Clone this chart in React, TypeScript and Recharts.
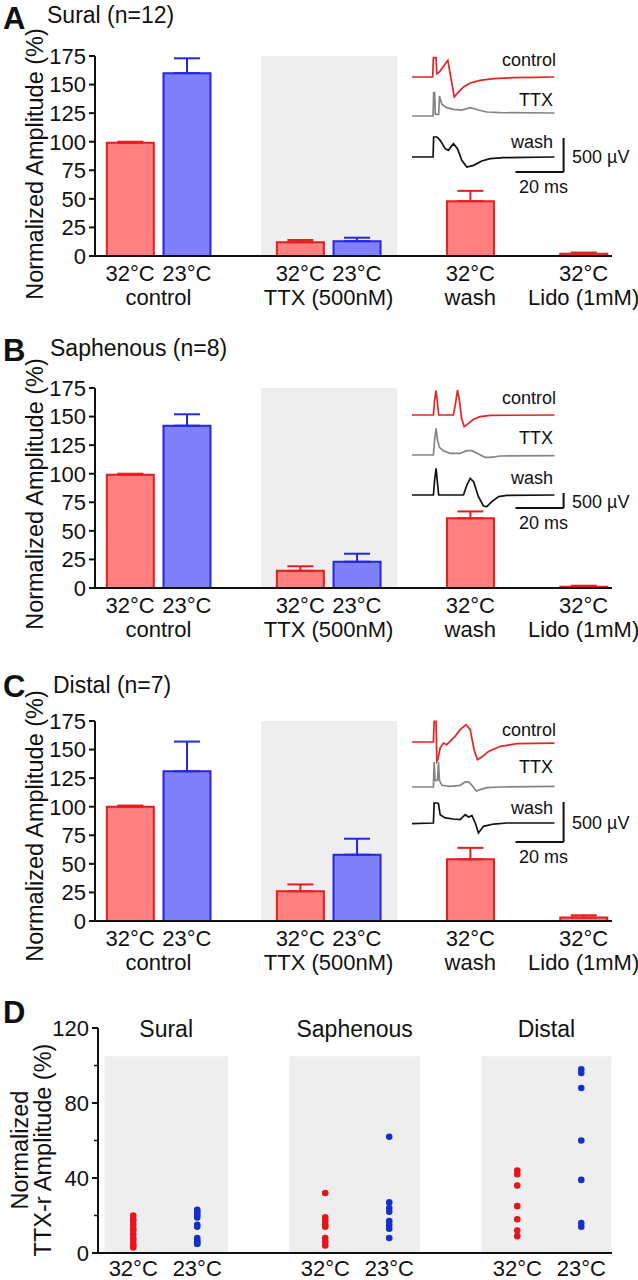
import React from 'react';
import {
  BarChart, Bar, XAxis, YAxis, ErrorBar, ReferenceArea, ReferenceLine,
  LineChart, Line, ScatterChart, Scatter,
} from 'recharts';

const FONT = '"Liberation Sans", Arial, Helvetica, sans-serif';
const INK = '#111';

// bar panels: treatment order along x
const barSlots = [0, 1, 3, 4, 6, 8];
const barTemps = ['32°C', '23°C', '32°C', '23°C', '32°C', '32°C'];
const groupSlots = [0.5, 3.5, 6, 8];
const groupNames = ['control', 'TTX (500nM)', 'wash', 'Lido (1mM)'];

// mean / SEM (% of control at 32°C)
const suralMean = [99, 160, 12, 13, 48, 2];
const suralSem = [1, 13, 2, 3, 9, 1];
const saphMean = [99, 142, 15, 23, 61, 1];
const saphSem = [1, 10, 4, 7, 6, 1];
const distalMean = [100, 131, 26, 58, 54, 3];
const distalSem = [1, 26, 6, 14, 10, 2];

// example traces (ms, µV)
const suralCtrlMs = [0, 8.6, 8.9, 10.0, 10.3, 11.4, 13.1, 14.9, 16.1, 17.6, 19.3, 21.4, 24.2, 28.3, 33.9, 42.2, 50.6, 59.2];
const suralCtrlUv = [0, 0, 284, 284, 49, 74, 157, 245, 0, -294, -221, -147, -88, -49, -25, -10, -5, 0];
const suralTtxMs = [0, 8.75, 9.0, 9.4, 9.7, 11.1, 11.4, 12.4, 14.4, 17.2, 20.7, 24.2, 27.6, 31.1, 36.7, 59.2];
const suralTtxUv = [0, 0, 343, 343, 25, 25, 294, 172, 123, 98, 88, 123, 88, 59, 49, 44];
const suralWashMs = [0, 8.75, 9.0, 10.3, 10.7, 11.7, 13.8, 15.1, 17.2, 18.9, 20.7, 22.8, 25.6, 29.0, 32.5, 38.1, 59.2];
const suralWashUv = [0, 0, 294, 294, 284, 245, 123, 98, 196, 123, -49, -147, -123, -59, -25, -10, 0];

const saphCtrlMs = [0, 8.9, 9.4, 10.0, 10.6, 11.1, 17.2, 18.1, 18.9, 19.7, 20.6, 21.7, 23.5, 25.6, 28.3, 32.5, 59.2];
const saphCtrlUv = [0, 0, 500, 811, 389, 0, 0, 389, 833, 500, -111, -389, -278, -144, -56, -11, 0];
const saphTtxMs = [0, 8.9, 9.4, 10.0, 10.6, 11.4, 13.1, 15.8, 20.0, 22.8, 24.9, 27.6, 30.4, 32.5, 36.7, 59.2];
const saphTtxUv = [0, 0, 500, 888, 500, 255, 144, 56, 56, 144, 144, 33, -78, -78, -33, -22];
const saphWashMs = [0, 8.9, 9.4, 10.0, 10.6, 11.1, 21.4, 22.8, 24.2, 25.6, 27.6, 29.7, 31.1, 33.2, 36.0, 39.4, 59.2];
const saphWashUv = [0, 0, 500, 888, 389, 0, 0, 333, 555, 444, -56, -366, -389, -222, -56, -11, 0];

const distCtrlMs = [0, 8.9, 9.2, 10.0, 10.3, 10.7, 11.7, 13.1, 14.4, 15.8, 17.9, 20.0, 22.5, 24.2, 25.8, 27.2, 29.0, 31.8, 36.7, 43.6, 59.2];
const distCtrlUv = [0, 0, 259, 259, -242, -221, -75, -13, -33, 8, 71, 154, 217, 154, -96, -221, -188, -117, -54, -21, -13];
const distTtxMs = [0, 8.9, 9.2, 9.6, 10.6, 11.0, 11.4, 12.4, 15.8, 20.0, 22.1, 23.5, 24.9, 26.7, 28.3, 31.1, 36.7, 59.2];
const distTtxUv = [0, 0, 313, 83, 83, 313, 83, 21, 8, 21, 63, 63, 21, -50, -33, -8, 0, 8];
const distWashMs = [0, 8.9, 9.2, 10.6, 11.0, 11.7, 13.8, 17.2, 20.0, 22.1, 23.5, 24.9, 26.3, 27.6, 29.7, 33.9, 39.4, 59.2];
const distWashUv = [-8, 0, 250, 250, 242, 104, 63, 50, 42, 104, 75, 92, 0, -125, -42, -13, 0, 0];

// panel D: TTX-resistant amplitude per fibre (%)
const nerveNames = ['Sural', 'Saphenous', 'Distal'];
const dTemps = ['32°C', '23°C'];
const ttxrWarm = [
  [20, 18, 17, 15, 13, 12, 10, 8, 7, 5, 4, 3],
  [32, 19, 17, 15, 14, 8, 6, 4],
  [44, 42, 36, 25, 18, 12, 9],
];
const ttxrCool = [
  [23, 22, 21, 20, 19, 15, 14, 8, 7, 6, 5, 5],
  [62, 27, 24, 22, 17, 15, 13, 8],
  [98, 96, 88, 60, 39, 16, 14],
];

const RED_FILL = '#ff8080';
const RED_LINE = '#e41e1e';
const BLUE_FILL = '#8080fa';
const BLUE_LINE = '#2626de';
const SHADE = '#eeeeee';
const BAR_DOMAIN: [number, number] = [-0.62, 8.5];

const BarTick = (props: any) => {
  const { x, y, payload } = props;
  const ti = barSlots.indexOf(payload.value);
  const gi = groupSlots.indexOf(payload.value);
  return (
    <g fontSize={22} fill={INK} textAnchor="middle">
      {ti >= 0 && <text x={x} y={y + 25}>{barTemps[ti]}</text>}
      {gi >= 0 && <text x={x} y={y + 49}>{groupNames[gi]}</text>}
    </g>
  );
};

function Trace({ ms, uv, color, baseline, k, scaleBottom }: any) {
  const rows = ms.map((t: number, i: number) => ({ t, v: uv[i] }));
  const above = 45;
  const below = 35;
  return (
    <div style={{ position: 'absolute', left: 412, top: baseline - above }}>
      <LineChart width={154} height={above + below} data={rows} margin={{ top: 0, right: 0, bottom: 0, left: 0 }}>
        <XAxis type="number" dataKey="t" domain={[0, 64]} hide height={0} />
        <YAxis type="number" domain={[-below / k, above / k]} hide width={0} allowDataOverflow />
        <Line dataKey="v" type="linear" stroke={color} strokeWidth={1.7} dot={false} isAnimationActive={false} />
        {scaleBottom != null && (
          <ReferenceLine ifOverflow="visible" stroke={INK} strokeWidth={2}
            segment={[{ x: 63, y: scaleBottom + 500 }, { x: 63, y: scaleBottom }]} />
        )}
        {scaleBottom != null && (
          <ReferenceLine ifOverflow="visible" stroke={INK} strokeWidth={2}
            segment={[{ x: 43, y: scaleBottom }, { x: 63, y: scaleBottom }]} />
        )}
      </LineChart>
    </div>
  );
}

function BarPanel({ top, means, sems }: any) {
  const rows = barSlots.map((slot, i) => {
    const cool = barTemps[i] === '23°C';
    return {
      slot,
      warm: cool ? null : means[i],
      warmErr: cool ? null : [0, sems[i]],
      cool: cool ? means[i] : null,
      coolErr: cool ? [0, sems[i]] : null,
    };
  });
  return (
    <div style={{ position: 'absolute', left: 0, top }}>
      <BarChart width={638} height={316} data={rows} margin={{ top: 56, right: 26, bottom: 10, left: 0 }}>
        <XAxis xAxisId="w" type="number" dataKey="slot" domain={BAR_DOMAIN}
          ticks={[0, 0.5, 1, 3, 3.5, 4, 6, 8]} interval={0} height={50}
          axisLine={{ stroke: INK, strokeWidth: 2 }} tickLine={false} tickSize={0} tickMargin={0}
          tick={<BarTick />} />
        <XAxis xAxisId="c" type="number" dataKey="slot" domain={BAR_DOMAIN} hide height={0} orientation="top" />
        <YAxis type="number" domain={[0, 175]} ticks={[0, 25, 50, 75, 100, 125, 150, 175]} interval={0}
          width={95} axisLine={{ stroke: INK, strokeWidth: 2 }} tickLine={{ stroke: INK, strokeWidth: 2 }}
          tickSize={6} tickMargin={3} tick={{ fontSize: 22, fill: INK }} />
        <ReferenceArea xAxisId="w" x1={2.31} x2={4.71} y1={0} y2={175} fill={SHADE} fillOpacity={1} stroke="none" />
        <Bar xAxisId="w" dataKey="warm" barSize={47} fill={RED_FILL} stroke={RED_LINE} strokeWidth={2} isAnimationActive={false}>
          <ErrorBar dataKey="warmErr" width={13} stroke={RED_LINE} strokeWidth={2} />
        </Bar>
        <Bar xAxisId="c" dataKey="cool" barSize={47} fill={BLUE_FILL} stroke={BLUE_LINE} strokeWidth={2} isAnimationActive={false}>
          <ErrorBar dataKey="coolErr" width={13} stroke={BLUE_LINE} strokeWidth={2} />
        </Bar>
      </BarChart>
    </div>
  );
}

const DXTick = (props: any) => {
  const { x, y, payload } = props;
  const t = dTemps[Math.round(payload.value) % 3];
  return <text x={x} y={y + 23} fontSize={22} fill={INK} textAnchor="middle">{t}</text>;
};

const DYTick = (props: any) => {
  const { x, y, payload } = props;
  const major = payload.value % 40 === 0;
  return (
    <g>
      <line x1={x} x2={x - (major ? 6 : 4)} y1={y} y2={y} stroke={INK} strokeWidth={major ? 2 : 1.5} />
      {major && <text x={x - 9} y={y} dy="0.36em" fontSize={22} fill={INK} textAnchor="end">{payload.value}</text>}
    </g>
  );
};

function DotPanel() {
  const warmPts = ttxrWarm.flatMap((vals, n) => vals.map((y) => ({ x: n * 3, y })));
  const coolPts = ttxrCool.flatMap((vals, n) => vals.map((y) => ({ x: n * 3 + 1, y })));
  const shades: [number, number][] = [[-0.45, 1.48], [2.44, 4.48], [5.44, 7.47]];
  return (
    <div style={{ position: 'absolute', left: 0, top: 1000 }}>
      <ScatterChart width={638} height={280} margin={{ top: 28, right: 26, bottom: 0, left: 0 }}>
        <XAxis type="number" dataKey="x" domain={[-0.55, 7.48]} ticks={[0, 1, 3, 4, 6, 7]} interval={0}
          height={27} axisLine={{ stroke: INK, strokeWidth: 2 }} tickLine={false} tickSize={0} tickMargin={0}
          tick={<DXTick />} />
        <YAxis type="number" dataKey="y" domain={[0, 120]} ticks={[0, 20, 40, 60, 80, 100, 120]} interval={0}
          width={98} axisLine={{ stroke: INK, strokeWidth: 2 }} tickLine={false} tickSize={0} tickMargin={0}
          tick={<DYTick />} />
        {shades.map((s, i) => (
          <ReferenceArea key={i} x1={s[0]} x2={s[1]} y1={0} y2={105} fill={SHADE} fillOpacity={1} stroke="none"
            label={{ value: nerveNames[i], position: 'top', offset: 19, fontSize: 23, fill: INK }} />
        ))}
        <Scatter data={warmPts} isAnimationActive={false}
          shape={(p: any) => <circle cx={p.cx} cy={p.cy} r={3.3} fill="#e8141b" />} />
        <Scatter data={coolPts} isAnimationActive={false}
          shape={(p: any) => <circle cx={p.cx} cy={p.cy} r={3.3} fill="#1530c8" />} />
      </ScatterChart>
    </div>
  );
}

const insetText = (y0: number, yTTX: number, yWash: number, yUv: number, yMs: number, key: string) => (
  <g key={key} fontSize={18} fill={INK}>
    <text x={556} y={y0} textAnchor="end">control</text>
    <text x={553} y={yTTX} textAnchor="end">TTX</text>
    <text x={553} y={yWash} textAnchor="end">wash</text>
    <text x={572} y={yUv}>500 µV</text>
    <text x={519} y={yMs}>20 ms</text>
  </g>
);

export default function App() {
  return (
    <div style={{ position: 'absolute', left: 0, top: 0, width: 638, height: 1280, fontFamily: FONT, background: '#fff', overflow: 'hidden' }}>
      <BarPanel top={0} means={suralMean} sems={suralSem} />
      <BarPanel top={332} means={saphMean} sems={saphSem} />
      <BarPanel top={665} means={distalMean} sems={distalSem} />
      <DotPanel />

      <Trace ms={suralCtrlMs} uv={suralCtrlUv} color="#e8231f" baseline={77} k={0.068} />
      <Trace ms={suralTtxMs} uv={suralTtxUv} color="#858585" baseline={116} k={0.068} />
      <Trace ms={suralWashMs} uv={suralWashUv} color={INK} baseline={157} k={0.068} scaleBottom={-220} />

      <Trace ms={saphCtrlMs} uv={saphCtrlUv} color="#e8231f" baseline={415} k={0.03} />
      <Trace ms={saphTtxMs} uv={saphTtxUv} color="#858585" baseline={455} k={0.03} />
      <Trace ms={saphWashMs} uv={saphWashUv} color={INK} baseline={495} k={0.03} scaleBottom={-433} />

      <Trace ms={distCtrlMs} uv={distCtrlUv} color="#e8231f" baseline={742} k={0.08} />
      <Trace ms={distTtxMs} uv={distTtxUv} color="#858585" baseline={787} k={0.08} />
      <Trace ms={distWashMs} uv={distWashUv} color={INK} baseline={823} k={0.08} scaleBottom={-237} />

      <svg width={638} height={1280} style={{ position: 'absolute', left: 0, top: 0, pointerEvents: 'none' }}>
        <g fontSize={31} fontWeight="bold" fill={INK}>
          <text x={3} y={29}>A</text>
          <text x={3} y={361}>B</text>
          <text x={3} y={697}>C</text>
          <text x={3} y={1023}>D</text>
        </g>
        <g fontSize={23} fill={INK}>
          <text x={47} y={23}>Sural (n=12)</text>
          <text x={50} y={356}>Saphenous (n=8)</text>
          <text x={53} y={693}>Distal (n=7)</text>
        </g>
        <g fontSize={23.5} fill={INK}>
          <text transform="translate(43,164) rotate(-90)" textAnchor="middle">Normalized Amplitude (%)</text>
          <text transform="translate(43,494) rotate(-90)" textAnchor="middle">Normalized Amplitude (%)</text>
          <text transform="translate(43,826) rotate(-90)" textAnchor="middle">Normalized Amplitude (%)</text>
          <text transform="translate(28,1150) rotate(-90)" textAnchor="middle">Normalized</text>
          <text transform="translate(51,1150) rotate(-90)" textAnchor="middle">TTX-r Amplitude (%)</text>
        </g>
        {insetText(66, 106, 148, 163, 193, 'a')}
        {insetText(404, 444, 484, 508, 529, 'b')}
        {insetText(736, 773, 814, 829, 863, 'c')}
      </svg>
    </div>
  );
}
